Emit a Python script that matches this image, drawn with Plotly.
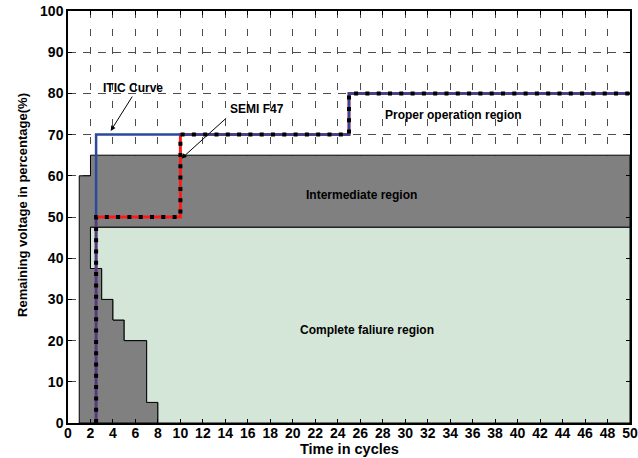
import plotly.graph_objects as go

# Region boundaries (time in cycles, remaining voltage in %)
intermediate_x = [1, 1, 2, 2, 50, 50, 2, 2, 3, 3, 4, 4, 5, 5, 7, 7, 8, 8, 1]
intermediate_y = [0, 60, 60, 65, 65, 47.5, 47.5, 37.5, 37.5, 30, 30, 25, 25, 20, 20, 5, 5, 0, 0]

failure_x = [8, 8, 7, 7, 5, 5, 4, 4, 3, 3, 2, 2, 50, 50, 8]
failure_y = [0, 5, 5, 20, 20, 25, 25, 30, 30, 37.5, 37.5, 47.5, 47.5, 0, 0]

# Ride-through curves
itic_x = [2.5, 2.5, 25, 25, 50]
itic_y = [0, 70, 70, 80, 80]

semi_x = [2.5, 2.5, 10, 10, 25, 25, 50]
semi_y = [0, 50, 50, 70, 70, 80, 80]

x_ticks = list(range(0, 51, 2))
y_ticks = list(range(0, 101, 10))

FONT = "Liberation Sans, Arial, Helvetica, sans-serif"

fig = go.Figure()

fig.add_trace(go.Scatter(
    x=intermediate_x, y=intermediate_y, mode="lines", fill="toself",
    fillcolor="#808080", line=dict(color="black", width=1),
    hoverinfo="skip", showlegend=False))

fig.add_trace(go.Scatter(
    x=failure_x, y=failure_y, mode="lines", fill="toself",
    fillcolor="#d4e6d8", line=dict(color="black", width=1),
    hoverinfo="skip", showlegend=False))

fig.add_trace(go.Scatter(
    x=semi_x, y=semi_y, mode="lines",
    line=dict(color="#ff1a1a", width=3), showlegend=False))

fig.add_trace(go.Scatter(
    x=itic_x, y=itic_y, mode="lines",
    line=dict(color="#2a4a9f", width=2.5), showlegend=False))

fig.add_trace(go.Scatter(
    x=semi_x, y=semi_y, mode="lines",
    line=dict(color="black", width=4, dash="4px,7.3px"), showlegend=False))

# Region labels
label_font = dict(family=FONT, size=12, color="black", weight="bold")
fig.add_annotation(x=34.3, y=74.7, text="Proper operation region",
                   showarrow=False, font=label_font)
fig.add_annotation(x=26.1, y=55.3, text="Intermediate region",
                   showarrow=False, font=label_font)
fig.add_annotation(x=26.6, y=22.6, text="Complete faliure region",
                   showarrow=False, font=label_font)

# Curve labels with pointer arrows
fig.add_annotation(x=5.8, y=81.3, text="ITIC Curve", showarrow=False,
                   font=label_font)
fig.add_annotation(x=3.8, y=70.9, ax=5.8, ay=79.6, axref="x", ayref="y",
                   text="", showarrow=True, arrowhead=2, arrowsize=1,
                   arrowwidth=1, arrowcolor="black")
fig.add_annotation(x=16.8, y=76.3, text="SEMI F47", showarrow=False,
                   font=label_font)
fig.add_annotation(x=10.1, y=64.2, ax=14.2, ay=74.3, axref="x", ayref="y",
                   text="", showarrow=True, arrowhead=2, arrowsize=1,
                   arrowwidth=1, arrowcolor="black")

# Axis titles
fig.add_annotation(xref="paper", yref="paper", x=0.5, y=-0.063,
                   text="Time in cycles", showarrow=False,
                   xanchor="center", yanchor="middle",
                   font=dict(family=FONT, size=14.5, color="black", weight="bold"))
fig.add_annotation(xref="paper", yref="paper", x=-0.082, y=0.529,
                   text="Remaining voltage in percentage(%)", showarrow=False,
                   textangle=-90, xanchor="center", yanchor="middle",
                   font=dict(family=FONT, size=13, color="black", weight="bold"))

tick_font = dict(family=FONT, size=14, color="black", weight="bold")

fig.update_xaxes(
    range=[0, 50], tickvals=x_ticks, ticktext=[str(v) for v in x_ticks],
    showgrid=True, gridcolor="#4d4d4d", gridwidth=1, griddash="7px,11px",
    zeroline=False, showline=True, linecolor="black", linewidth=1.5,
    mirror="ticks", ticks="inside", ticklen=4, tickcolor="black",
    tickfont=tick_font, ticklabeloverflow="allow", ticklabelstandoff=-4,
)
fig.update_yaxes(
    range=[0, 100], tickvals=y_ticks, ticktext=[str(v) for v in y_ticks],
    showgrid=True, gridcolor="#4d4d4d", gridwidth=1, griddash="8px,7px",
    zeroline=False, showline=True, linecolor="black", linewidth=1.5,
    mirror="ticks", ticks="inside", ticklen=4, tickcolor="black",
    tickfont=tick_font, ticklabeloverflow="allow",
)

fig.update_layout(
    width=638, height=458,
    margin=dict(l=68, r=8, t=11, b=35, autoexpand=False),
    plot_bgcolor="white", paper_bgcolor="white",
    font=dict(family=FONT),
    showlegend=False,
)

fig.write_html("out.html")
